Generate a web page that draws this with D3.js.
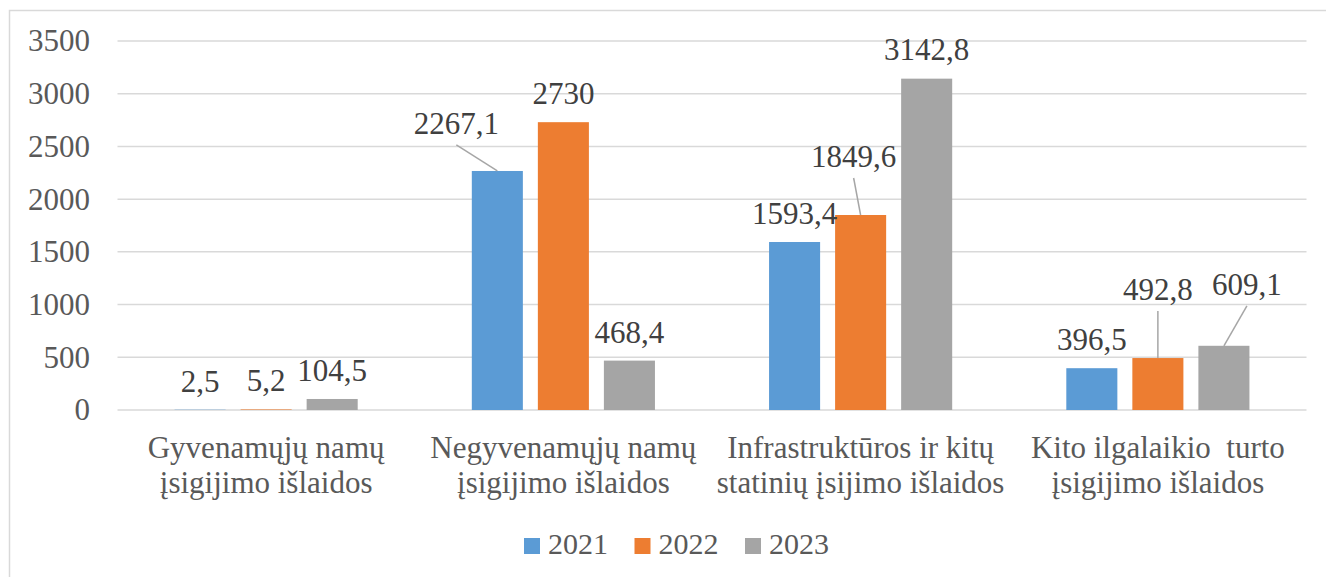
<!DOCTYPE html>
<html>
<head>
<meta charset="utf-8">
<script src="https://cdn.jsdelivr.net/npm/d3@7"></script>
<style>
  body { margin: 0; background: #fff; }
  svg text { font-family: "Liberation Serif", Tinos, "Times New Roman", "DejaVu Serif", serif; }
</style>
</head>
<body>
<script>
// categories (two lines each) and yearly values
const categories = [
    ["Gyvenamųjų namų", "įsigijimo išlaidos"],
    ["Negyvenamųjų namų", "įsigijimo išlaidos"],
    ["Infrastruktūros ir kitų", "statinių įsijimo išlaidos"],
    ["Kito ilgalaikio  turto", "įsigijimo išlaidos"]
];
const years = ["2021", "2022", "2023"];
const values2021 = [2.5, 2267.1, 1593.4, 396.5];
const values2022 = [5.2, 2730, 1849.6, 492.8];
const values2023 = [104.5, 468.4, 3142.8, 609.1];
const yTicks = [0, 500, 1000, 1500, 2000, 2500, 3000, 3500];

// manual label moves (px) like the dragged labels in the original, [year][category]
const labelNudge = [
    [[0, 0], [-41, -19], [0, 0], [0, 0]],
    [[0, 0], [0, 0], [-7, -30], [0, -40]],
    [[0, 0], [0, 0], [0, -1], [23, -33]]
];

const colors = ["#5B9BD5", "#ED7D31", "#A5A5A5"];
const fontFam = '"Liberation Serif", Tinos, "Times New Roman", "DejaVu Serif", serif';
const width = 1326, height = 577;

const series = [values2021, values2022, values2023];
const catKeys = categories.map((c, i) => i);

var svg = d3.select("body").append("svg")
    .attr("width", width)
    .attr("height", height)
    .attr("font-family", fontFam);

// chart frame
svg.append("path")
    .attr("d", "M9.5," + height + "V10.5H" + width)
    .attr("fill", "none")
    .attr("stroke", "#d9d9d9")
    .attr("stroke-width", 1.5);

var x0 = d3.scaleBand().domain(catKeys).range([117.5, 1306.5]);
var x1 = d3.scaleBand().domain(years).range([0, x0.bandwidth()])
    .paddingInner(0.227).paddingOuter(0.864);
var y = d3.scaleLinear().domain([0, 3500]).range([410, 41]);

// gridlines
svg.append("g")
    .selectAll("line")
    .data(yTicks)
    .enter().append("line")
    .attr("x1", 117.5)
    .attr("x2", 1306.5)
    .attr("y1", d => y(d))
    .attr("y2", d => y(d))
    .attr("stroke", "#d9d9d9")
    .attr("stroke-width", 1.5);

// y axis labels
var yAxis = svg.append("g")
    .attr("transform", "translate(100,0)")
    .call(d3.axisLeft(y).tickValues(yTicks).tickFormat(d => String(d)).tickSize(0).tickPadding(10));
yAxis.attr("font-family", fontFam).attr("font-size", 31);
yAxis.select(".domain").remove();
yAxis.selectAll("text")
    .attr("fill", "#595959");

// bars
var rows = [];
series.forEach((vals, s) => {
    vals.forEach((v, c) => rows.push({ s: s, c: c, v: v }));
});

var barX = d => x0(d.c) + x1(years[d.s]);

svg.append("g")
    .selectAll("rect")
    .data(rows)
    .enter().append("rect")
    .attr("x", d => barX(d))
    .attr("y", d => y(d.v))
    .attr("width", x1.bandwidth())
    .attr("height", d => y(0) - y(d.v))
    .attr("fill", d => colors[d.s]);

// data labels
function labelPos(d) {
    var n = labelNudge[d.s][d.c];
    return {
        x: barX(d) + x1.bandwidth() / 2 + n[0],
        y: y(d.v) - 18 + n[1]
    };
}

// leader lines for moved labels
svg.append("g")
    .selectAll("line")
    .data(rows.filter(d => labelNudge[d.s][d.c][1] < -10))
    .enter().append("line")
    .attr("x1", d => labelPos(d).x)
    .attr("y1", d => labelPos(d).y + 11)
    .attr("x2", d => barX(d) + x1.bandwidth() / 2)
    .attr("y2", d => y(d.v))
    .attr("stroke", "#a6a6a6")
    .attr("stroke-width", 1.5);

svg.append("g")
    .selectAll("text")
    .data(rows)
    .enter().append("text")
    .attr("x", d => labelPos(d).x)
    .attr("y", d => labelPos(d).y)
    .attr("text-anchor", "middle")
    .attr("font-size", 31)
    .attr("fill", "#404040")
    .text(d => String(d.v).replace(".", ","));

// category labels
var catLabels = svg.append("g")
    .selectAll("text")
    .data(categories)
    .enter().append("text")
    .attr("x", (d, i) => x0(i) + x0.bandwidth() / 2)
    .attr("y", 458)
    .attr("text-anchor", "middle")
    .attr("font-size", 31)
    .attr("fill", "#595959")
    .style("white-space", "pre");

catLabels.selectAll("tspan")
    .data(d => d)
    .enter().append("tspan")
    .attr("x", function() { return this.parentNode.getAttribute("x"); })
    .attr("dy", (d, i) => i === 0 ? 0 : 35)
    .text(d => d);

// legend
var legend = svg.append("g")
    .selectAll("g")
    .data(years)
    .enter().append("g")
    .attr("transform", (d, i) => "translate(" + (524 + i * 110.5) + ",538)");

legend.append("rect")
    .attr("width", 16)
    .attr("height", 16)
    .attr("fill", (d, i) => colors[i]);

legend.append("text")
    .attr("x", 24)
    .attr("y", 16)
    .attr("font-size", 30)
    .attr("fill", "#595959")
    .text(d => d);
</script>
</body>
</html>
